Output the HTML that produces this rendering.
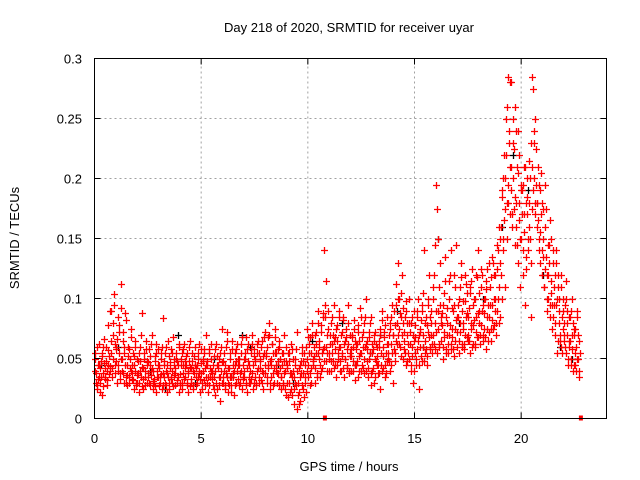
<!DOCTYPE html>
<html><head><meta charset="utf-8"><style>
html,body{margin:0;padding:0;background:#fff;}
svg{display:block;font-family:"Liberation Sans",sans-serif;}
</style></head><body>
<svg id="chart" width="640" height="480" viewBox="0 0 640 480">
<rect width="640" height="480" fill="#fff"/>
<text x="349" y="32" font-size="13" text-anchor="middle">Day 218 of 2020, SRMTID for receiver uyar</text>
<text transform="translate(19,238) rotate(-90)" font-size="13" text-anchor="middle">SRMTID / TECUs</text>
<text x="349" y="471" font-size="13" text-anchor="middle">GPS time / hours</text>
<g id="grid"></g>
<g id="marks"></g>
<rect x="94.5" y="58.5" width="512" height="360" fill="none" stroke="#000"/>
<g id="axes"></g>
</svg>
<script>
const xTicks=[0,5,10,15,20];
const yTicks=[0,0.05,0.1,0.15,0.2,0.25,0.3];
const yTickLabels=["0","0.05","0.1","0.15","0.2","0.25","0.3"];
const binStart=0, binWidth=0.25;
// red series: values in thousandths of TECU, per 0.25 h bin
const redBins=[
[40,55,30,25,45,62,35],[30,48,20,55,38,66,42],[35,60,28,45,78,52,40],[90,55,35,70,104,45,62],
[60,30,85,45,72,38,50],[112,40,65,30,55,88,35],[45,28,60,35,50,75,40],[38,55,25,45,65,30,50],
[30,48,22,60,40,35,88],[42,25,55,35,65,30,48],[35,58,28,45,40,70,25],[40,30,52,22,62,35,45],
[28,45,35,55,25,84,38],[48,30,40,60,22,35,52],[25,42,35,55,30,68,45],[38,28,50,32,45,22,60],
[30,45,25,55,38,62,42],[35,52,28,40,22,48,65],[42,30,55,25,38,60,45],[28,45,35,50,40,22,58],
[38,25,48,32,55,42,70],[30,45,22,58,35,40,50],[40,28,52,35,20,62,45],[25,45,35,55,15,40,75],
[48,30,40,25,60,35,72],[22,42,35,55,28,65,38],[35,20,45,58,30,40,50],[28,50,38,62,25,45,35],
[40,55,30,68,22,48,35],[45,30,58,38,70,25,52],[35,50,28,62,42,55,30],[48,32,65,40,25,55,72],
[38,55,30,68,45,80,25],[50,35,62,28,42,75,55],[45,30,58,38,65,50,25],[35,55,28,48,70,40,20],
[30,45,18,55,38,25,62],[20,40,12,35,50,28,72],[8,30,22,45,15,38,55],[25,48,18,35,60,40,75],
[35,55,28,68,42,80,50],[45,60,30,72,55,38,90],[50,65,35,78,42,58,88],[140,95,115,60,40,75,50],
[55,70,40,85,62,48,95],[45,68,35,78,55,90,60],[60,40,72,52,85,35,65],[50,75,42,62,95,38,55],
[58,40,70,48,82,32,65],[45,62,35,78,52,92,40],[55,68,42,80,38,60,100],[48,65,35,72,55,28,85],
[40,58,30,70,50,62,45],[52,38,65,25,75,45,90],[60,42,72,35,55,85,48],[55,70,40,80,62,95,30],
[70,90,55,112,65,80,130],[75,100,60,85,120,50,92],[65,85,45,98,70,55,80],[50,72,40,85,60,30,65],
[55,78,45,90,65,25,70],[60,82,48,95,70,140,55],[65,85,52,100,72,120,58],[70,90,55,110,62,145,80],
[195,175,150,75,60,95,85],[65,88,50,105,72,135,58],[70,92,55,115,78,140,62],[68,90,52,120,75,145,85],
[72,95,55,110,80,130,62],[75,98,58,120,85,68,105],[70,92,55,110,80,125,62],[78,100,60,120,85,68,140],
[80,105,62,125,90,70,95],[75,100,58,115,85,65,130],[85,110,65,135,95,75,120],[90,120,70,145,100,80,160],
[130,160,100,185,150,220,175],[200,250,150,285,180,230,210],[190,280,160,230,175,260,145],[160,210,130,240,180,110,195],
[150,190,120,210,170,95,135],[170,200,140,180,150,230,85],[285,275,240,200,180,225,160],[180,210,150,190,130,170,140],
[150,175,110,195,135,90,120],[120,145,95,165,105,75,130],[85,110,70,130,95,55,120],[80,100,65,120,55,90,75],
[70,95,55,115,80,45,65],[60,85,45,100,70,40,75],[55,75,40,90,50,35,65]
];
const redBins2=[
[50,38,28,60,33,45,22],[42,35,52,27,60,46,33],[48,32,40,57,37,90,44],[65,42,80,50,95,38,58],
[48,66,40,78,55,33,92],[50,72,38,60,45,82,30],[36,52,30,58,42,68,33],[45,32,52,40,60,28,36],
[38,55,30,48,70,27,43],[33,50,40,28,58,45,38],[47,30,52,36,62,42,31],[33,48,27,55,40,58,35],
[42,30,50,37,60,28,45],[35,55,28,45,38,65,30],[47,33,58,40,27,50,36],[42,55,30,48,35,62,28],
[37,50,30,45,58,33,48],[45,30,55,38,60,27,43],[33,48,40,28,52,45,35],[42,30,55,38,62,33,46],
[30,50,40,58,28,45,35],[48,35,55,28,42,62,38],[33,45,25,58,40,30,52],[42,28,50,35,60,30,47],
[35,55,28,45,38,65,30],[42,28,50,35,22,58,45],[40,55,28,48,62,33,45],[45,30,55,40,68,33,50],
[35,50,28,58,42,62,30],[40,55,33,62,45,30,58],[48,30,55,40,65,35,50],[42,60,30,52,38,68,45],
[52,35,60,42,70,30,48],[45,62,38,55,30,68,40],[55,38,48,28,60,42,35],[45,30,55,38,25,48,60],
[42,55,30,48,22,38,58],[35,50,25,45,30,58,40],[20,42,12,35,48,28,60],[38,55,30,45,22,50,68],
[45,62,38,55,30,70,48],[52,70,42,62,35,80,55],[60,45,72,40,55,85,48],[60,85,48,70,55,90,40],
[62,48,80,55,70,42,65],[58,75,45,65,50,85,40],[48,70,55,82,42,62,50],[68,45,58,80,40,70,52],
[52,68,40,60,75,45,58],[62,48,72,40,65,55,85],[45,60,72,50,85,40,62],[58,42,68,50,80,38,62],
[55,42,65,35,72,48,60],[45,60,38,70,55,82,40],[52,68,45,78,38,62,50],[62,48,75,45,85,55,70],
[58,78,48,95,62,100,70],[62,88,52,105,70,80,58],[72,55,90,48,80,62,100],[62,45,80,52,70,40,90],
[68,50,85,58,100,45,75],[72,52,90,60,105,48,80],[58,78,45,95,68,85,60],[80,62,100,70,120,58,90],
[72,55,90,62,110,130,80],[78,60,95,68,115,55,85],[80,62,100,70,120,58,92],[75,58,95,65,110,82,60],
[85,65,100,72,118,60,90],[80,62,98,70,112,88,65],[85,65,105,75,115,60,95],[82,62,100,72,118,88,68],
[90,70,110,78,120,65,100],[88,68,108,75,125,95,72],[95,75,118,82,130,100,78],[100,80,125,90,140,110,85],
[150,120,190,140,200,165,110],[220,180,260,195,240,170,280],[210,170,250,200,225,185,240],[180,145,205,165,220,150,190],
[170,140,195,155,210,125,180],[185,150,215,160,200,130,175],[210,190,230,170,250,195,180],[165,140,195,155,205,120,180],
[135,110,160,125,175,100,145],[100,130,85,150,115,95,140],[95,120,80,140,100,65,110],[90,70,110,60,85,100,65],
[80,60,100,70,90,50,85],[65,50,90,58,80,45,70],[45,60,85,50,70,40,55]
];
const blackT=[0.3,1.1,2.6,3.9,4.7,5.6,6.4,7.3,8.6,9.3,10.2,11.6,12.9,13.4,14.2,15.4,16.1,17.1,18.2,19.1,19.6,20.3,21.0,21.8,22.4,12.2,6.9,3.3];
const blackY=[0.045,0.06,0.04,0.07,0.03,0.05,0.035,0.06,0.045,0.03,0.065,0.08,0.055,0.07,0.09,0.06,0.15,0.08,0.1,0.16,0.22,0.19,0.12,0.06,0.05,0.045,0.07,0.025];
const zeroT=[10.8,22.8];

const X0=94.5,X1=606.5,Y0=418.5,Y1=58.5;
const xs=t=>X0+(t-0)/(24-0)*(X1-X0);
const ys=v=>Y0-(v-0)/(0.3-0)*(Y0-Y1);
const NS="http://www.w3.org/2000/svg";
const grid=document.getElementById('grid'),axes=document.getElementById('axes'),marks=document.getElementById('marks');
function mk(tag,attrs,parent){const e=document.createElementNS(NS,tag);for(const k in attrs)e.setAttribute(k,attrs[k]);parent.appendChild(e);return e;}
xTicks.forEach((t,i)=>{
  const x=xs(t);
  if(i>0){const g=mk('line',{x1:x,x2:x,y1:Y0,y2:Y1,stroke:'#a0a0a0','stroke-dasharray':'2,3'},grid);
  
  }
  const tk=mk('line',{x1:x,x2:x,y1:Y0,y2:Y0-6,stroke:'#000'},axes);
  
  
  const tk2=mk('line',{x1:x,x2:x,y1:Y1,y2:Y1+6,stroke:'#000'},axes);
  
  
  const tx=mk('text',{x:x,y:443,'font-size':13,'text-anchor':'middle'},axes);tx.textContent=String(t);
  
  
});
yTicks.forEach((v,i)=>{
  const y=ys(v);
  if(i>0&&i<yTicks.length-1){const g=mk('line',{x1:X0,x2:X1,y1:y,y2:y,stroke:'#a0a0a0','stroke-dasharray':'2,3'},grid);
  
  }
  const tk=mk('line',{x1:X0,x2:X0+6,y1:y,y2:y,stroke:'#000'},axes);
  
  
  const tk2=mk('line',{x1:X1,x2:X1-6,y1:y,y2:y,stroke:'#000'},axes);
  
  
  const tx=mk('text',{x:82,y:y+5,'font-size':13,'text-anchor':'end'},axes);tx.textContent=yTickLabels[i];
  
  
});
function plus(t,v,col,name){
  const x=Math.round(xs(t))+0.5,y=Math.round(ys(v))+0.5;
  const p=mk('path',{d:`M${x-3.5} ${y}H${x+3.5}M${x} ${y-3.5}V${y+3.5}`,stroke:col,'stroke-width':1.3,fill:'none'},marks);
  
  
}
blackT.forEach((t,i)=>plus(t,blackY[i],'#000','black-point'));
function drawBins(bins,shift){
  bins.forEach((bin,b)=>{
    bin.forEach((v,j)=>{
      const t=binStart+b*binWidth+(j+shift)/bin.length*binWidth;
      plus(t,v/1000,'#ff0000','red-point');
    });
  });
}
drawBins(redBins,0.25);
drawBins(redBins2,0.75);
zeroT.forEach(t=>{
  const r=mk('rect',{x:xs(t)-2,y:ys(0)-3,width:4,height:5,fill:'#ff0000'},marks);
  
  
});
</script>
</body></html>
